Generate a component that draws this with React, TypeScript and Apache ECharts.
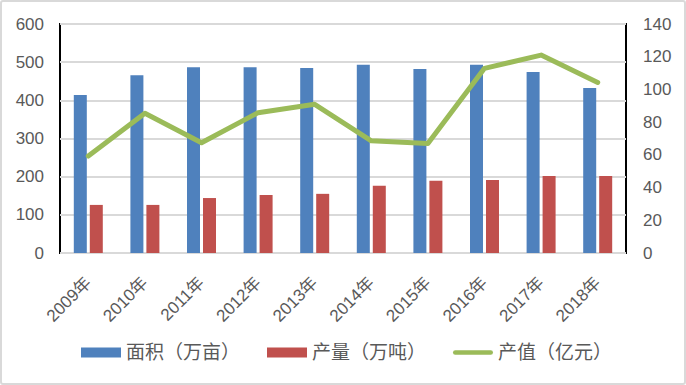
import React, { useEffect, useRef } from "react";
import * as echarts from "echarts";

const categories = ["2009年", "2010年", "2011年", "2012年", "2013年", "2014年", "2015年", "2016年", "2017年", "2018年"];
const areaValues = [414, 466, 487, 487, 485, 493, 482, 493, 474, 432];
const outputValues = [126, 126, 144, 152, 155, 176, 189, 191, 202, 202];
const outputValueYi = [59.3, 85.4, 67.4, 85.8, 90.9, 68.6, 67, 112.9, 121, 104.3];
const seriesNames = ["面积（万亩）", "产量（万吨）", "产值（亿元）"];

const FONT = "'Liberation Sans', 'Noto Sans CJK SC', sans-serif";

export default function App() {
  const ref = useRef<HTMLDivElement>(null);
  useEffect(() => {
    if (!ref.current) return;
    const chart = echarts.init(ref.current, undefined, { renderer: "svg" });
    chart.setOption({
      animation: false,
      backgroundColor: "#ffffff",
      textStyle: { fontFamily: FONT },
      graphic: [
        {
          type: "rect",
          shape: { x: 1, y: 1, width: 684, height: 383, r: 2 },
          style: { fill: "none", stroke: "#d9d9d9", lineWidth: 2 },
          silent: true,
          z: 100,
        },
      ],
      grid: {
        left: 60,
        right: 60,
        top: 24,
        bottom: 132,
        show: true,
        borderColor: "#000000",
        borderWidth: 2,
        backgroundColor: "transparent",
        containLabel: false,
      },
      legend: {
        left: 81,
        top: 343,
        padding: 0,
        itemWidth: 40,
        itemHeight: 10,
        itemGap: 27,
        symbolKeepAspect: true,
        textStyle: { fontSize: 19, color: "#595959", fontFamily: FONT },
        data: [
          { name: seriesNames[0], icon: "rect" },
          { name: seriesNames[1], icon: "rect" },
          {
            name: seriesNames[2],
            icon: "path://M2.5,0 L42.5,0 A2.5,2.5 0 0 1 42.5,5 L2.5,5 A2.5,2.5 0 0 1 2.5,0 Z",
          },
        ],
      },
      xAxis: {
        type: "category",
        data: categories,
        axisLine: { show: false },
        axisTick: { show: false },
        axisLabel: {
          rotate: 45,
          fontSize: 17,
          color: "#595959",
          margin: 27,
          interval: 0,
          fontFamily: FONT,
        },
        z: 10,
      },
      yAxis: [
        {
          type: "value",
          min: 0,
          max: 600,
          interval: 100,
          axisLine: { show: false },
          axisTick: { show: false },
          splitLine: { lineStyle: { color: "#d9d9d9", width: 2 } },
          axisLabel: { fontSize: 17, color: "#595959", margin: 16, fontFamily: FONT },
        },
        {
          type: "value",
          min: 0,
          max: 140,
          interval: 20,
          position: "right",
          axisLine: { show: false },
          axisTick: { show: false },
          splitLine: { show: false },
          axisLabel: { fontSize: 17, color: "#595959", margin: 17, fontFamily: FONT },
        },
      ],
      series: [
        {
          name: seriesNames[0],
          type: "bar",
          data: areaValues,
          barWidth: 13,
          barGap: "23%",
          itemStyle: { color: "#4f81bd" },
          yAxisIndex: 0,
        },
        {
          name: seriesNames[1],
          type: "bar",
          data: outputValues,
          barWidth: 13,
          barGap: "23%",
          itemStyle: { color: "#c0504d" },
          yAxisIndex: 0,
        },
        {
          name: seriesNames[2],
          type: "line",
          data: outputValueYi,
          yAxisIndex: 1,
          symbol: "none",
          showSymbol: false,
          itemStyle: { color: "#9bbb59" },
          lineStyle: { color: "#9bbb59", width: 5, cap: "round", join: "round" },
          z: 5,
        },
      ],
    });
    return () => chart.dispose();
  }, []);
  return (
    <div
      ref={ref}
      style={{ position: "fixed", left: 0, top: 0, width: 686, height: 385, background: "#fff" }}
    />
  );
}
